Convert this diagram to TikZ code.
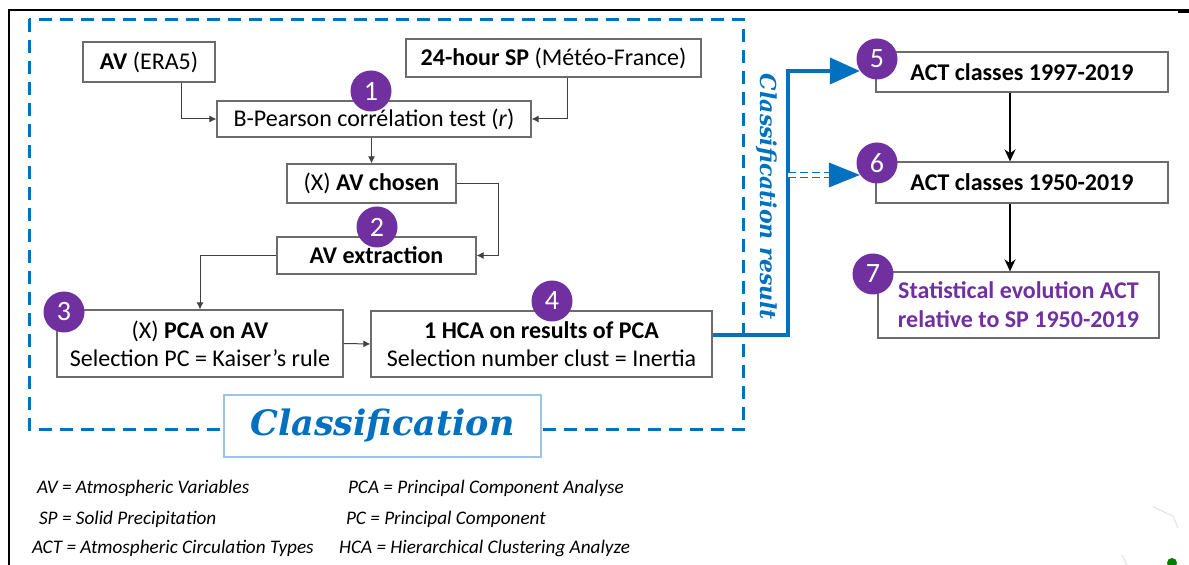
\documentclass[tikz,border=0pt]{standalone}
\usepackage{fontspec}
\setmainfont{Carlito}
\newfontfamily\slabfont{DejaVu Serif}
\usetikzlibrary{arrows.meta, positioning, calc}
\definecolor{flowblue}{HTML}{0070C0}
\definecolor{lightblue}{HTML}{9DC3E6}
\definecolor{steppurple}{HTML}{7030A0}

\begin{document}
\begin{tikzpicture}[x=0.5pt, y=-0.5pt, font=\fontsize{12}{14}\selectfont,
  box/.style={draw=gray!85!black, line width=0.6pt, inner sep=2pt, align=center, fill=white},
  num/.style={circle, fill=steppurple, text=white, minimum size=20.5pt, inner sep=0pt, font=\fontsize{14}{14}\selectfont},
  link/.style={draw=black!75, line width=0.5pt, -{Latex[length=3.5pt,width=3.5pt]}},
  bigarrow/.style={line width=1.3pt, -{Stealth[length=6pt,width=5.5pt]}},
  result/.style={flowblue, line width=2pt, -{Triangle[length=15pt,width=13pt]}},
  legend/.style={anchor=west, font=\fontsize{9.6}{11}\selectfont\itshape}]
  \useasboundingbox (0,0) rectangle (1189,565);

  % Page frame
  \draw[line width=1pt] (8.5,565) -- (8.5,10.5) -- (1189,10.5);
  \draw[line width=1.6pt] (1178,11) -- (1189,11);

  % Classification frame
  \draw[flowblue, line width=1.5pt, dash pattern=on 6.5pt off 4pt] (29,19.5) rectangle (743,430);

  % Input boxes
  \node[box, minimum width=66pt, minimum height=20pt] (av) at (149,62) {\textbf{AV} (ERA5)};
  \node[box, minimum width=147.5pt, minimum height=19pt] (sp) at (553.5,58) {\textbf{24-hour SP} (Météo-France)};

  % Classification steps
  \node[box, minimum width=157pt, minimum height=18pt] (pear) at (374,119) {B-Pearson corrélation test (\textit{r})};
  \node[box, minimum width=84.5pt, minimum height=19.5pt] (chosen) at (371.5,183.5) {(X) \textbf{AV chosen}};
  \node[box, minimum width=99.5pt, minimum height=18.5pt] (extr) at (376.5,255.5) {\textbf{AV extraction}};
  \node[box, minimum width=143pt, minimum height=33.5pt] (pca) at (200,343.5) {(X) \textbf{PCA on AV}\\Selection PC = Kaiser’s rule};
  \node[box, minimum width=170.5pt, minimum height=33pt] (hca) at (541.5,344) {\textbf{1 HCA on results of PCA}\\Selection number clust = Inertia};

  % Frame label
  \node[box, draw=lightblue, minimum width=158.5pt, minimum height=31pt, text=flowblue,
        font=\slabfont\bfseries\itshape\fontsize{17.5}{17.5}\selectfont] (classlabel) at (382.5,426) {Classification};
  \node[rotate=-90, text=flowblue, font=\slabfont\bfseries\itshape\fontsize{11}{11}\selectfont] (restext) at (767,197) {Classification result};

  % Result boxes
  \node[box, minimum width=146pt, minimum height=20pt, font=\fontsize{12}{14}\selectfont\bfseries] (act5) at (1022,72) {ACT classes 1997-2019};
  \node[box, minimum width=146pt, minimum height=20.5pt, font=\fontsize{12}{14}\selectfont\bfseries] (act6) at (1022,182.5) {ACT classes 1950-2019};
  \node[box, minimum width=140.5pt, minimum height=33pt, text=steppurple, font=\fontsize{12}{14.5}\selectfont\bfseries] (stat) at (1018.5,305) {Statistical evolution ACT\\relative to SP 1950-2019};

  % Step numbers
  \node[num] (n1) at (371,91) {1};
  \node[num] (n2) at (377,227) {2};
  \node[num] (n3) at (64,312) {3};
  \node[num] (n4) at (552,301) {4};
  \node[num] (n5) at (877,59) {5};
  \node[num] (n6) at (877,163) {6};
  \node[num] (n7) at (873,274) {7};

  % Thin connectors
  \draw[link] ([xshift=16pt]av.south) |- (pear.west);
  \draw[link] ([xshift=7pt]sp.south) |- (pear.east);
  \draw[link] (pear.south -| chosen.north) -- (chosen.north);
  \draw[link] (chosen.east) -- ++(42,0) |- (extr.east);
  \draw[link] (extr.west) -| (pca.north);
  \draw[link] (pca.east) -- (hca.west);

  % Classification result
  \coordinate (bend) at (788,0);
  \draw[result] ([yshift=4.5pt]hca.east) -| (bend |- n5.215) -- (n5.215);
  \draw[flowblue, line width=0.8pt, double=white, double distance=1.6pt, dash pattern=on 4pt off 2pt]
    (bend |- n6.215) -- ([xshift=-15pt]n6.215);
  \fill[flowblue] (n6.215) -- ++(-31,-12.5) -- ++(0,25) -- cycle;

  % Result chain
  \draw[bigarrow] ([xshift=-6pt]act5.south) -- ([xshift=-6pt]act6.north);
  \draw[bigarrow] ([xshift=-6pt]act6.south) -- ([xshift=-6pt]act6.south |- stat.north);

  % Legend
  \node[legend] (lav) at (30,488) {AV = Atmospheric Variables};
  \node[legend] (lsp) at (32,519) {SP = Solid Precipitation};
  \node[legend] (lact) at (25,548) {ACT = Atmospheric Circulation Types};
  \node[legend] (lpca) at (341,488) {PCA = Principal Component Analyse};
  \node[legend] (lpc) at (339,519) {PC = Principal Component};
  \node[legend] (lhca) at (332,548) {HCA = Hierarchical Clustering Analyze};

  % Corner remnants
  \draw[gray!20, line width=0.6pt] (1153,507) -- (1173,516) -- (1178,528);
  \draw[gray!20, line width=0.6pt] (1122,555) -- (1127,565);
  \fill[green!50!black] (1172,563) circle (2.5pt);
\end{tikzpicture}
\end{document}
